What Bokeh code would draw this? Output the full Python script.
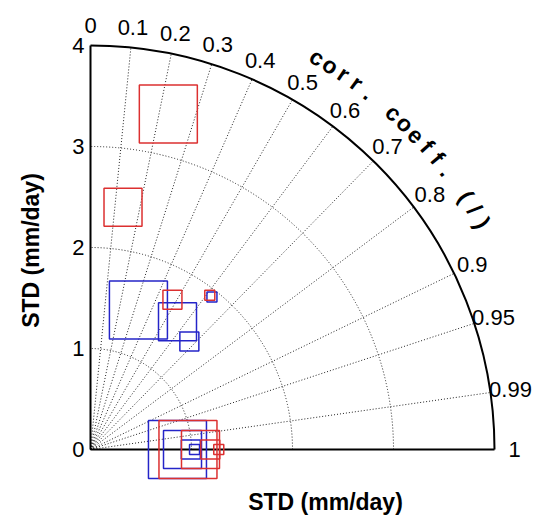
import numpy as np
from bokeh.plotting import figure
from bokeh.models import Range1d, ColumnDataSource
from bokeh.core.properties import value
from bokeh.embed import file_html
from bokeh.resources import INLINE

# ---------------- data ----------------
# Taylor diagram points: standard deviation (mm/day) and correlation
red_std = [3.41, 2.42, 1.69, 1.93, 0.965, 1.089, 1.186, 1.270]
red_corr = [0.226, 0.133, 0.480, 0.612, 1.0, 1.0, 1.0, 1.0]
blue_std = [1.46, 1.53, 1.45, 1.93, 0.861, 0.911, 0.993, 1.030]
blue_corr = [0.325, 0.563, 0.675, 0.623, 1.0, 1.0, 1.0, 1.0]
# marker size class of each point (0 = largest ... 3 = smallest)
red_class = [0, 1, 2, 3, 0, 1, 2, 3]
blue_class = [0, 1, 2, 3, 0, 1, 2, 3]

std_ticks = [0, 1, 2, 3, 4]
std_arcs = [1, 2, 3]
corr_lines = [0.1, 0.2, 0.3, 0.4, 0.5, 0.6, 0.7, 0.8, 0.9, 0.95, 0.99]
corr_ticks = [0, 0.1, 0.2, 0.3, 0.4, 0.5, 0.6, 0.7, 0.8, 0.9, 0.95, 0.99, 1]
corr_tick_labels = ["0", "0.1", "0.2", "0.3", "0.4", "0.5", "0.6", "0.7",
                    "0.8", "0.9", "0.95", "0.99", "1"]
axis_title = "STD (mm/day)"
corr_title = "corr. coeff. (/)"
std_max = 4

# ---------------- styles ----------------
CLASS_PX = [58, 38, 19, 10]
RED = "#dc3030"
BLUE = "#2424c8"
FONT = value("Liberation Sans")
W, H = 537, 515
PX = 101.0          # pixels per data unit
OX, OY = 90, 449    # pixel position of origin

p = figure(width=W, height=H, output_backend="svg", toolbar_location=None,
           x_axis_type=None, y_axis_type=None, min_border=0,
           x_range=Range1d(-OX / PX, (W - OX) / PX),
           y_range=Range1d(-(H - OY) / PX, OY / PX))
p.grid.visible = False
p.outline_line_color = None
p.background_fill_color = "white"
p.border_fill_color = "white"

# grid: radial correlation lines
for c in corr_lines:
    th = np.arccos(c)
    p.line([0, std_max * np.cos(th)], [0, std_max * np.sin(th)],
           line_color="#222222", line_width=1, line_dash="1 2")
# grid: std arcs
p.arc(x=0, y=0, radius=std_arcs, start_angle=0, end_angle=np.pi / 2,
      line_color="#222222", line_width=1, line_dash="1 2")

# frame: axes and outer arc
p.line([0, 0], [0, std_max], line_color="black", line_width=2)
p.line([0, std_max], [0, 0], line_color="black", line_width=2)
p.arc(x=0, y=0, radius=std_max, start_angle=0, end_angle=np.pi / 2,
      line_color="black", line_width=2)

# std tick labels on the left
p.text(x=[-6 / PX] * len(std_ticks), y=std_ticks,
       text=[str(t) for t in std_ticks], text_align="right",
       text_baseline="middle", text_font=FONT,
       text_font_size=value("22px"), text_color="black")

# correlation tick labels
r_lab = 4.2
ang = np.arccos(np.array(corr_ticks))
p.text(x=r_lab * np.cos(ang), y=r_lab * np.sin(ang), text=corr_tick_labels,
       text_align="center", text_baseline="middle", text_font=FONT,
       text_font_size=value("22px"), text_color="black")

# curved correlation title
r_t = 4.485
cx, cy, ct, ca = [], [], [], []
for i, ch in enumerate(corr_title):
    if ch == " ":
        continue
    th = np.radians(60 - 2.0 * i)
    cx.append(r_t * np.cos(th))
    cy.append(r_t * np.sin(th))
    ct.append(ch)
    ca.append(th - np.pi / 2)
p.text(x=cx, y=cy, text=ct, angle=ca, text_align="center",
       text_baseline="middle", text_font=FONT, text_font_style="bold",
       text_font_size=value("23px"), text_color="black")

# axis titles
p.text(x=[(325 - OX) / PX], y=[(OY - 501) / PX], text=[axis_title],
       text_align="center", text_baseline="middle", text_font=FONT,
       text_font_style="bold", text_font_size=value("23px"),
       text_color="black")
p.text(x=[(30 - OX) / PX], y=[(OY - 250) / PX], text=[axis_title],
       angle=np.pi / 2, text_align="center", text_baseline="middle",
       text_font=FONT, text_font_style="bold",
       text_font_size=value("23px"), text_color="black")


def series(std, corr, cls):
    std = np.array(std)
    th = np.arccos(np.clip(np.array(corr), -1, 1))
    return ColumnDataSource(dict(x=std * np.cos(th), y=std * np.sin(th),
                                 s=[CLASS_PX[k] for k in cls]))


p.scatter(x="x", y="y", size="s", marker="square", source=series(blue_std, blue_corr, blue_class),
          fill_alpha=0, line_color=BLUE, line_width=1.5)
p.scatter(x="x", y="y", size="s", marker="square", source=series(red_std, red_corr, red_class),
          fill_alpha=0, line_color=RED, line_width=1.5)

open("out.html", "w").write(file_html(p, INLINE))
